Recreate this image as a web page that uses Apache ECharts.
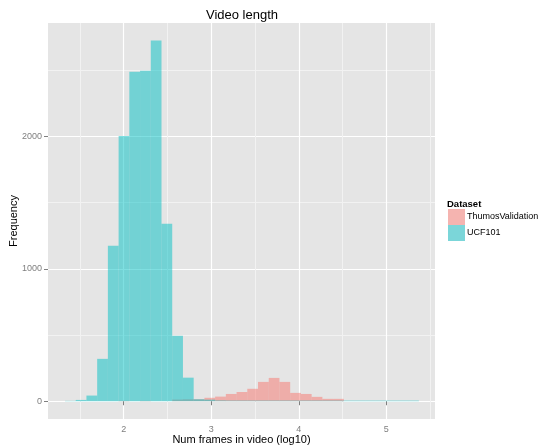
<!DOCTYPE html>
<html>
<head>
<meta charset="utf-8">
<script src="https://cdn.jsdelivr.net/npm/echarts@6/dist/echarts.min.js"></script>
<style>
html, body { margin: 0; padding: 0; background: #fff; }
#main { width: 540px; height: 446px; }
</style>
</head>
<body>
<div id="main"></div>
<script>
// histogram bins (log10 of frame count)
var binStart = 1.33;
var binWidth = 0.12248;

// counts per bin, 33 bins
var ucf101 = [3, 10, 43, 320, 1174, 2003, 2487, 2494, 2722, 1340, 494, 178, 15, 12, 6,
    5, 5, 5, 5, 5, 5, 5, 5, 5, 5, 5, 5, 5, 5, 5, 5, 5, 5];
var thumos = [0, 0, 0, 0, 0, 3, 0, 3, 0, 0, 13, 15, 15, 26, 35,
    55, 70, 94, 146, 176, 146, 63, 55, 33, 18, 18, 0, 0, 0, 0, 0, 0, 0];

var seriesNames = ['ThumosValidation', 'UCF101'];

var xMajor = [2, 3, 4, 5];
var xMinor = [1.5, 2.5, 3.5, 4.5, 5.5];
var yMajor = [0, 1000, 2000];
var yMinor = [500, 1500, 2500];

var font = 'Liberation Sans, Arial, sans-serif';

function toBins(counts) {
    return counts.map(function (c, k) {
        var x0 = binStart + k * binWidth;
        return [x0, x0 + binWidth, c];
    });
}

function renderBar(params, api) {
    var top = api.coord([api.value(0), api.value(2)]);
    var bottom = api.coord([api.value(1), 0]);
    return {
        type: 'rect',
        shape: {
            x: top[0],
            y: top[1],
            width: bottom[0] - top[0],
            height: bottom[1] - top[1],
        },
        style: { fill: api.visual('color') },
    };
}

var myChart = echarts.init(document.querySelector('#main'));

var xRange = { min: 1.136, max: 5.556 };
var yRange = { min: -134, max: 2855 };

var option = {
    animation: false,
    backgroundColor: '#fff',
    textStyle: { fontFamily: font },
    grid: {
        left: 48,
        right: 105,
        top: 23,
        bottom: 27,
        show: true,
        backgroundColor: '#E5E5E5',
        borderWidth: 0,
        containLabel: false,
        outerBoundsMode: 'none',
    },
    graphic: [
        {
            type: 'text',
            x: 242,
            y: 15,
            style: {
                text: 'Video length',
                fontSize: 13,
                fontFamily: font,
                fill: '#000',
                align: 'center',
                verticalAlign: 'middle',
            },
        },
        {
            type: 'text',
            x: 447,
            y: 204,
            style: {
                text: 'Dataset',
                fontSize: 9.5,
                fontWeight: 'bold',
                fontFamily: font,
                fill: '#000',
                align: 'left',
                verticalAlign: 'middle',
            },
        },
    ],
    legend: {
        orient: 'vertical',
        left: 448,
        top: 209,
        padding: 0,
        itemGap: 0,
        itemWidth: 17,
        itemHeight: 16,
        icon: 'rect',
        selectedMode: false,
        textStyle: { fontSize: 9, color: '#000', fontFamily: font, padding: [0, 0, 0, -3] },
        data: [
            { name: seriesNames[0], itemStyle: { color: '#F5B4B0' } },
            { name: seriesNames[1], itemStyle: { color: '#7BD6D9' } },
        ],
    },
    xAxis: [
        { // minor grid
            type: 'value',
            position: 'bottom',
            min: xRange.min,
            max: xRange.max,
            axisLine: { show: false },
            axisTick: { show: false, customValues: xMinor },
            axisLabel: { show: false, customValues: xMinor },
            splitLine: { show: true, lineStyle: { color: '#F2F2F2', width: 1 } },
        },
        {
            type: 'value',
            position: 'bottom',
            min: xRange.min,
            max: xRange.max,
            name: 'Num frames in video (log10)',
            nameLocation: 'middle',
            nameGap: 15,
            nameMoveOverlap: false,
            nameTextStyle: { fontSize: 11, color: '#000', fontFamily: font },
            axisLine: { show: false },
            axisTick: { show: true, length: 4, customValues: xMajor, lineStyle: { color: '#7F7F7F' } },
            axisLabel: { customValues: xMajor, color: '#7F7F7F', fontSize: 9, margin: 6 },
            splitLine: { show: true, lineStyle: { color: '#FFFFFF', width: 1.2 } },
        },
    ],
    yAxis: [
        { // minor grid
            type: 'value',
            position: 'left',
            min: yRange.min,
            max: yRange.max,
            axisLine: { show: false },
            axisTick: { show: false, customValues: yMinor },
            axisLabel: { show: false, customValues: yMinor },
            splitLine: { show: true, lineStyle: { color: '#F2F2F2', width: 1 } },
        },
        {
            type: 'value',
            position: 'left',
            min: yRange.min,
            max: yRange.max,
            name: 'Frequency',
            nameLocation: 'middle',
            nameGap: 29,
            nameMoveOverlap: false,
            nameTextStyle: { fontSize: 11, color: '#000', fontFamily: font },
            axisLine: { show: false },
            axisTick: { show: true, length: 4, customValues: yMajor, lineStyle: { color: '#7F7F7F' } },
            axisLabel: {
                customValues: yMajor,
                color: '#7F7F7F',
                fontSize: 9,
                margin: 6,
                formatter: function (v) { return String(v); },
            },
            splitLine: { show: true, lineStyle: { color: '#FFFFFF', width: 1.2 } },
        },
    ],
    series: [
        {
            name: seriesNames[0],
            type: 'custom',
            xAxisIndex: 1,
            yAxisIndex: 1,
            renderItem: renderBar,
            encode: { x: [0, 1], y: 2 },
            itemStyle: { color: 'rgba(248,118,109,0.5)' },
            data: toBins(thumos),
        },
        {
            name: seriesNames[1],
            type: 'custom',
            xAxisIndex: 1,
            yAxisIndex: 1,
            renderItem: renderBar,
            encode: { x: [0, 1], y: 2 },
            itemStyle: { color: 'rgba(0,191,196,0.5)' },
            data: toBins(ucf101),
        },
    ],
};

myChart.setOption(option);
</script>
</body>
</html>
